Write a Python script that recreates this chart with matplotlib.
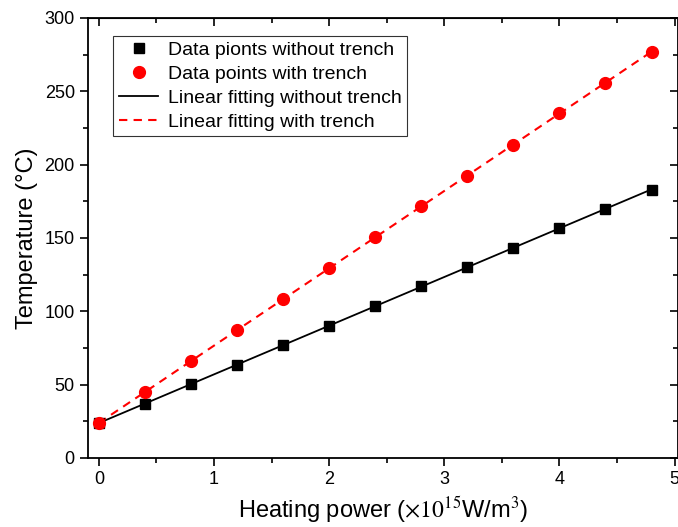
import numpy as np
import matplotlib
matplotlib.use("Agg")
import matplotlib.pyplot as plt

plt.rcParams['font.family'] = ['Liberation Sans', 'DejaVu Sans']
plt.rcParams['mathtext.fontset'] = 'stix'

# heating power (x10^15 W/m^3)
power = [0.0, 0.4, 0.8, 1.2, 1.6, 2.0, 2.4, 2.8, 3.2, 3.6, 4.0, 4.4, 4.8]
# temperatures
temp_no_trench = [24, 37, 50.5, 63.5, 77, 90, 103.5, 117, 130, 143.5, 156.5, 170, 183]
temp_trench = [24, 45, 66, 87, 108.5, 129.5, 150.5, 171.5, 192.5, 213.5, 235, 256, 277]

labels = ["Data pionts without trench", "Data points with trench",
          "Linear fitting without trench", "Linear fitting with trench"]

x = np.array(power)
fit1 = np.polyfit(x, temp_no_trench, 1)
fit2 = np.polyfit(x, temp_trench, 1)

fig = plt.figure(figsize=(6.78, 5.27), dpi=100)
ax = fig.add_axes([88/678, (527-458)/527, (678-88)/678, (458-18)/527])

ax.plot(x, np.polyval(fit1, x), color='black', lw=1.3, zorder=2)
ax.plot(x, np.polyval(fit2, x), color='red', lw=1.5, ls=(0, (4, 3)), zorder=2)
ax.plot(x, temp_no_trench, ls='none', marker='s', ms=7.7, color='black', zorder=3)
ax.plot(x, temp_trench, ls='none', marker='o', ms=8.5, color='red', zorder=3)

h = [plt.Line2D([], [], ls='none', marker='s', ms=7.5, color='black'),
     plt.Line2D([], [], ls='none', marker='o', ms=8.5, color='red'),
     plt.Line2D([], [], color='black', lw=1.3),
     plt.Line2D([], [], color='red', lw=1.5, ls=(0, (4, 3)))]
leg = ax.legend(h, labels, loc='upper left', bbox_to_anchor=(0.043, 0.96),
                fontsize=14, frameon=True, fancybox=False, edgecolor='black',
                borderpad=0.3, labelspacing=0.32, handlelength=2.0,
                handletextpad=0.5, borderaxespad=0)
leg.get_frame().set_linewidth(0.8)

ax.set_xlim(-0.095, 5.03)
ax.set_ylim(0, 300)
ax.set_xticks([0, 1, 2, 3, 4, 5])
ax.set_xticks(np.arange(0.5, 5, 1), minor=True)
ax.set_yticks(np.arange(0, 301, 50))
ax.set_yticks(np.arange(25, 300, 50), minor=True)
ax.tick_params(which='both', direction='out', labelsize=13, width=1.2)
ax.tick_params(which='major', length=6)
ax.tick_params(which='minor', length=3.5)
for s in ax.spines.values():
    s.set_linewidth(1.3)

# mirrored ticks pointing inward on the top and right
axt = ax.secondary_xaxis('top')
axt.set_xticks([0, 1, 2, 3, 4, 5])
axt.set_xticks(np.arange(0.5, 5, 1), minor=True)
axt.tick_params(which='both', direction='in', labeltop=False, width=1.2)
axt.tick_params(which='major', length=6)
axt.tick_params(which='minor', length=3.5)
axr = ax.secondary_yaxis('right')
axr.set_yticks(np.arange(0, 301, 50))
axr.set_yticks(np.arange(25, 300, 50), minor=True)
axr.tick_params(which='both', direction='in', labelright=False, width=1.2)
axr.tick_params(which='major', length=6)
axr.tick_params(which='minor', length=3.5)

ax.set_xlabel(r"Heating power ($\times10^{15}$W/m$^3$)", fontsize=17, labelpad=4)
ax.set_ylabel("Temperature (°C)", fontsize=17, labelpad=5)

fig.savefig("out.png", dpi=100)
